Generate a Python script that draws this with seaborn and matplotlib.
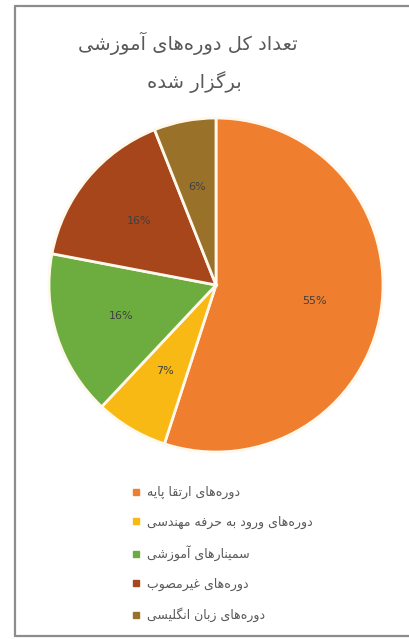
import unicodedata
import matplotlib
matplotlib.use('Agg')
import matplotlib.pyplot as plt
from matplotlib.lines import Line2D
import seaborn as sns

# داده‌ها
title_lines = ['تعداد کل دوره‌های آموزشی', 'برگزار شده']
categories = [
    'دوره‌های ارتقا پایه',
    'دوره‌های ورود به حرفه مهندسی',
    'سمینارهای آموزشی',
    'دوره‌های غیرمصوب',
    'دوره‌های زبان انگلیسی',
]
shares = [55, 7, 16, 16, 6]
colors = ['#EF7E2E', '#F9B914', '#6DAD3F', '#A6461A', '#9A7129']

# متن فارسی: شکل‌دهی حروف و راست به چپ (matplotlib این کار را نمی‌کند)
RIGHT_ONLY = set('اآأإدذرزژوؤة')


def is_ar(c):
    return c != '' and '\u0621' <= c <= '\u06ff'


def dual(c):
    return is_ar(c) and c not in RIGHT_ONLY


def shape(text):
    out = []
    for i, c in enumerate(text):
        if not is_ar(c):
            if c != '\u200c':
                out.append(c)
            continue
        prev = text[i - 1] if i > 0 else ''
        nxt = text[i + 1] if i + 1 < len(text) else ''
        p = dual(prev)
        n = dual(c) and is_ar(nxt)
        form = {(True, True): 'MEDIAL', (True, False): 'FINAL',
                (False, True): 'INITIAL', (False, False): 'ISOLATED'}[(p, n)]
        try:
            out.append(unicodedata.lookup(unicodedata.name(c) + ' ' + form + ' FORM'))
        except KeyError:
            out.append(c)
    return ''.join(out)[::-1]


sns.set_theme(style='white')
plt.rcParams['font.family'] = ['DejaVu Sans']

fig = plt.figure(figsize=(4.09, 6.39), dpi=100)
W, H = 409, 639

# قاب
frame = '#8C8C8C'
fig.add_artist(Line2D([15 / W, 15 / W], [1 - 6 / H, 1 - 636 / H], color=frame, lw=1.6))
fig.add_artist(Line2D([15 / W, 1], [1 - 6 / H, 1 - 6 / H], color=frame, lw=1.6))
fig.add_artist(Line2D([15 / W, 1], [1 - 636 / H, 1 - 636 / H], color=frame, lw=1.6))

# عنوان
fig.text(188 / W, 1 - 43 / H, shape(title_lines[0]), ha='center', va='center',
         fontsize=14, color='#595959')
fig.text(194 / W, 1 - 82 / H, shape(title_lines[1]), ha='center', va='center',
         fontsize=14, color='#595959')

# نمودار دایره‌ای
cx, cy, r = 216, 285, 167
ax = fig.add_axes([(cx - r) / W, 1 - (cy + r) / H, 2 * r / W, 2 * r / H])
wedges, texts, autotexts = ax.pie(
    shares, colors=colors, startangle=90, counterclock=False,
    autopct='%1.0f%%', pctdistance=0.6,
    wedgeprops=dict(edgecolor='#FFF8EC', linewidth=2),
    textprops=dict(fontsize=8, color='#404040'))
ax.set_xlim(-1, 1)
ax.set_ylim(-1, 1)
ax.set_aspect('equal')
ax.axis('off')

# راهنما
handles = [Line2D([], [], marker='s', linestyle='none', markersize=4,
                  markerfacecolor=c, markeredgecolor=c) for c in colors]
fig.legend(handles, [shape(c) for c in categories], loc='upper left',
           bbox_to_anchor=(126 / W, 1 - 481 / H), frameon=False,
           fontsize=9, labelcolor='#595959', handlelength=0.8,
           handletextpad=0.5, labelspacing=1.32, borderaxespad=0)

fig.savefig('out.png', dpi=100, facecolor='white')
